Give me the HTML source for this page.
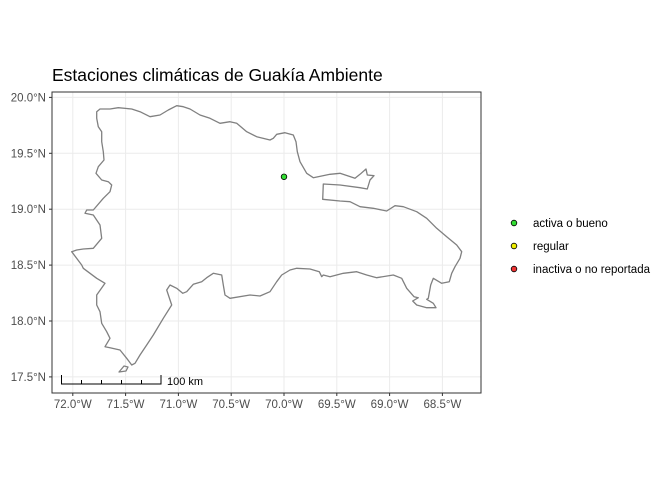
<!DOCTYPE html>
<html><head><meta charset="utf-8"><style>
body{margin:0;background:#fff;}
svg{font-family:"Liberation Sans",sans-serif;}
</style></head><body>
<svg width="672" height="480" viewBox="0 0 672 480">
<text x="52" y="81" font-size="17.5" fill="#000">Estaciones climáticas de Guakía Ambiente</text>
<g id="grid"></g>
<path fill="none" stroke="#808080" stroke-width="1.3" stroke-linejoin="round" d="M96.7,111.7 L100,109 L110,109 L118.3,107.7 L131.7,109 L140,111.7 L150,116.7 L160,115 L168.3,110 L176.7,105.7 L183.3,106.7 L190,109 L200,115 L210,118.3 L220,123.3 L230,121.7 L236.7,123.3 L246.7,131.7 L256.7,136.7 L270,140 L273.3,138.3 L276.7,134.3 L285,132.7 L293.3,135 L296,141.7 L297.3,151.7 L300,161.7 L306.7,173.3 L313.3,177.7 L330,174.3 L340,173.3 L355,178.3 L360,174.3 L366,169 L367.3,175 L374,175.7 L370,180 L367.3,189 L360,187.7 L340,185 L323.3,184 L322.7,199.3 L340,201 L350,201.7 L360,206.7 L373.3,208.3 L386.7,211 L395,205.7 L403.3,206.7 L416.7,211.7 L426.7,218.3 L436.7,228.3 L446.7,236.7 L456.7,245 L461.7,251.7 L460,258.3 L455,266.7 L451.7,273.3 L449.3,281.7 L441.7,283.3 L433.3,278.3 L430.7,285 L428.3,298.3 L426.7,299.3 L433.3,303.3 L436,307.7 L426.7,307.7 L416.7,305 L412.7,301 L418.3,297.7 L414,296.7 L406.7,288.3 L401.7,278.3 L393.3,275 L376.7,277.7 L366.7,275 L356.7,271.7 L343.3,273.3 L330,276.7 L323.3,275 L321.7,276.7 L319.3,271.7 L310,269 L296.7,268.3 L290,270 L281.7,275 L276.7,281.7 L270,291.7 L260,296 L250,295 L230,298.3 L225,295 L223.3,285 L221.7,275 L213.3,273.3 L206.7,277.7 L201.7,281.7 L193.3,284.3 L186.7,291.7 L182.7,293.3 L176.7,288.3 L170,285 L166.7,290 L171.7,305 L163.3,318.3 L153.3,335 L146.7,345 L140,355 L135,363.3 L131.7,365 L126.7,358.3 L120,350 L110,347.7 L105,346.7 L110,338.3 L106.7,331.7 L101.7,323.3 L100,311.7 L96.7,305 L96.7,295 L105,283.3 L96.7,278.3 L83.3,268.3 L81.7,265 L71.7,251.7 L76.7,250 L83.3,249 L93.3,248.3 L101.7,238.3 L100,225 L93.3,215 L85,213.3 L86.7,210 L93.3,210 L103.3,198.3 L110,191.7 L111.7,185 L108.3,181.7 L101.7,180 L96,173.3 L98.3,166.7 L104,160 L103.3,151.7 L101.7,141.7 L101.7,131.7 L98.3,126.7 L96.7,118.3 Z
M119,372 L124,366 L128,367 L126,371 Z"/>
<rect x="52" y="92" width="429" height="301" fill="none" stroke="#333" stroke-width="1"/>
<g id="axes"></g>
<g id="points"></g>
<g stroke="#000" stroke-width="1" fill="none">
<path d="M61.5,375 V384 H161 V375 M81.5,380 V384 M101.5,380 V384 M121.5,380 V384 M141.5,380 V384"/>
</g>
<text x="167" y="385" font-size="11" fill="#000">100 km</text>
<g id="legend"></g>
<script>
const xTicks=[-72,-71.5,-71,-70.5,-70,-69.5,-69,-68.5];
const yTicks=[17.5,18,18.5,19,19.5,20];
const stationLon=[-70.0];
const stationLat=[19.29];
const stationStatus=["activa o bueno"];
const legendLabels=["activa o bueno","regular","inactiva o no reportada"];
const legendColors=["#33dd33","#eeee00","#ee3333"];
const NS="http://www.w3.org/2000/svg";
const sx=lon=>284+(lon+70)*105.6;
const sy=lat=>97.4+(20-lat)*111.8;
function mk(tag,attrs,parent){const e=document.createElementNS(NS,tag);for(const k in attrs)e.setAttribute(k,attrs[k]);parent.appendChild(e);return e;}
const grid=document.getElementById('grid'),axes=document.getElementById('axes');
mk('rect',{x:52,y:92,width:429,height:301,fill:'#fff'},grid);
xTicks.forEach(v=>{const x=sx(v);
 const l=mk('line',{x1:x,x2:x,y1:92,y2:393,stroke:'#ebebeb','stroke-width':1},grid);
 
 
 mk('line',{x1:x,x2:x,y1:393,y2:396,stroke:'#333'},axes);
 const t=mk('text',{x:x,y:408,'font-size':11.5,fill:'#4d4d4d','text-anchor':'middle'},axes);
 t.textContent=Math.abs(v).toFixed(1)+"°W";
 
 
});
yTicks.forEach(v=>{const y=sy(v);
 const l=mk('line',{x1:52,x2:481,y1:y,y2:y,stroke:'#ebebeb','stroke-width':1},grid);
 
 
 mk('line',{x1:49,x2:52,y1:y,y2:y,stroke:'#333'},axes);
 const t=mk('text',{x:46,y:y+4,'font-size':11.5,fill:'#4d4d4d','text-anchor':'end'},axes);
 t.textContent=v.toFixed(1)+"°N";
 
 
});
const pts=document.getElementById('points');
stationLon.forEach((lon,i)=>{
 const c=mk('circle',{cx:sx(lon),cy:sy(stationLat[i]),r:2.8,fill:legendColors[legendLabels.indexOf(stationStatus[i])],stroke:'#000','stroke-width':0.8},pts);
 
 
});
const lg=document.getElementById('legend');
legendLabels.forEach((lab,i)=>{const y=223+i*23;
 const c=mk('circle',{cx:514,cy:y,r:2.8,fill:legendColors[i],stroke:'#000','stroke-width':0.8},lg);
 
 
 const t=mk('text',{x:533,y:y+4,'font-size':11.5,fill:'#000'},lg);
 t.textContent=lab;
 
 
});
</script>
</svg>
</body></html>
